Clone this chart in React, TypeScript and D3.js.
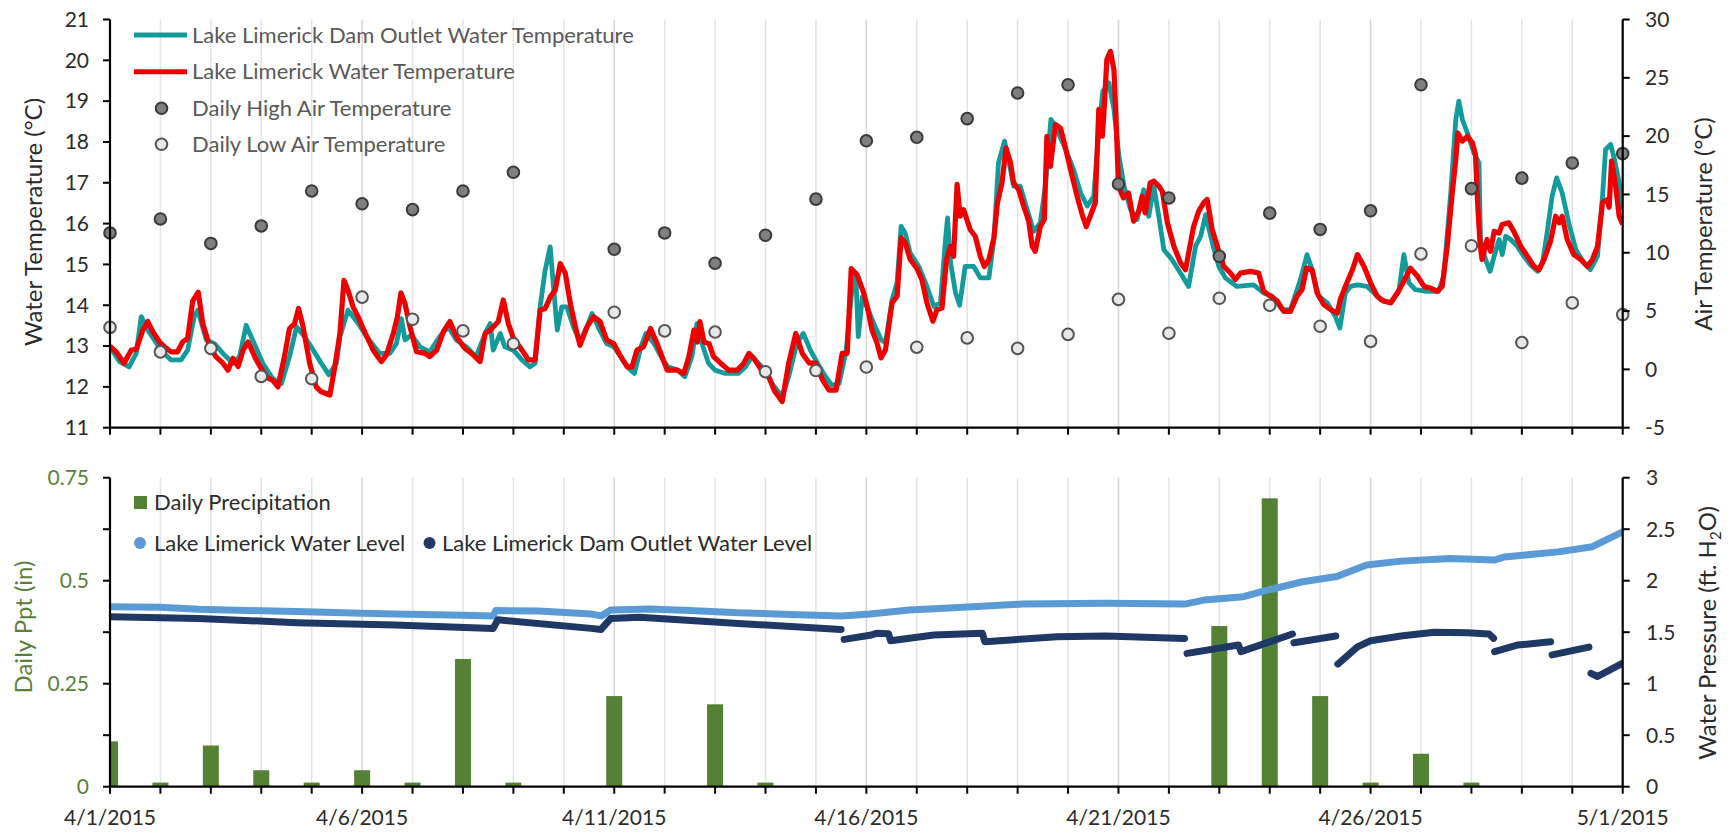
import React from "react";
import * as d3 from "d3";

// ---------- DATA ----------
const dayIndex: number[] = d3.range(0, 31);
const dateTickDays: number[] = [0, 5, 10, 15, 20, 25, 30];
const dateTickLabels: string[] = ["4/1/2015", "4/6/2015", "4/11/2015", "4/16/2015", "4/21/2015", "4/26/2015", "5/1/2015"];

const waterTempTicks: number[] = [11, 12, 13, 14, 15, 16, 17, 18, 19, 20, 21];
const airTempTicks: number[] = [-5, 0, 5, 10, 15, 20, 25, 30];
const pptTicks: number[] = [0, 0.25, 0.5, 0.75];
const pptTickLabels: string[] = ["0", "0.25", "0.5", "0.75"];
const pptMinorTicks: number[] = [0.125, 0.375, 0.625];
const pressureTicks: number[] = [0, 0.5, 1, 1.5, 2, 2.5, 3];
const pressureTickLabels: string[] = ["0", "0.5", "1", "1.5", "2", "2.5", "3"];

// Daily air temperature (°C), one per day 4/1..5/1 (null = missing)
const airHigh: (number | null)[] = [11.7, 12.9, 10.8, 12.3, 15.3, 14.2, 13.7, 15.3, 16.9, null, 10.3, 11.7, 9.1, 11.5, 14.6, 19.6, 19.9, 21.5, 23.7, 24.4, 15.9, 14.7, 9.7, 13.4, 12.0, 13.6, 24.4, 15.5, 16.4, 17.7, 18.5];
const airLow: (number | null)[] = [3.6, 1.5, 1.8, -0.6, -0.8, 6.2, 4.3, 3.3, 2.2, null, 4.9, 3.3, 3.2, -0.2, -0.1, 0.2, 1.9, 2.7, 1.8, 3.0, 6.0, 3.1, 6.1, 5.5, 3.7, 2.4, 9.9, 10.6, 2.3, 5.7, 4.7];

// Daily precipitation (in)
const precip: number[] = [0.11, 0.01, 0.10, 0.04, 0.01, 0.04, 0.01, 0.31, 0.01, 0, 0.22, 0, 0.20, 0.01, 0, 0, 0, 0, 0, 0, 0, 0, 0.39, 0.70, 0.22, 0.01, 0.08, 0.01, 0, 0, 0];

// Lake Limerick water temperature [day since 4/1, °C]
const lakeTemp: [number, number][] = [
  [0, 13.0], [0.12, 12.86], [0.28, 12.58], [0.42, 12.9], [0.52, 12.92], [0.65, 13.39], [0.75, 13.6], [0.85, 13.35], [0.98, 13.1],
  [1.08, 12.98], [1.21, 12.86], [1.34, 12.86], [1.44, 13.1], [1.54, 13.19], [1.64, 14.1], [1.75, 14.32], [1.84, 13.55], [1.97, 13.02],
  [2.1, 12.74], [2.24, 12.58], [2.34, 12.41], [2.44, 12.7], [2.54, 12.5], [2.64, 12.9], [2.74, 13.1], [2.9, 12.66],
  [3.1, 12.24], [3.23, 12.16], [3.33, 12.0], [3.46, 12.74], [3.56, 13.43], [3.66, 13.55], [3.74, 13.92], [3.83, 13.47], [3.96, 12.58],
  [4.09, 12.0], [4.19, 11.88], [4.36, 11.8], [4.46, 12.5], [4.56, 13.31], [4.64, 14.61], [4.72, 14.37], [4.82, 13.96], [4.92, 13.72],
  [5.05, 13.35], [5.22, 12.9], [5.38, 12.62], [5.48, 12.78], [5.62, 13.31], [5.7, 13.72], [5.77, 14.3], [5.85, 14.04], [5.95, 13.47],
  [6.08, 12.86], [6.25, 12.82], [6.34, 12.74], [6.48, 12.9], [6.61, 13.35], [6.74, 13.6], [6.87, 13.23],
  [7.04, 12.94], [7.17, 12.82], [7.34, 12.62], [7.44, 13.31], [7.54, 13.39], [7.7, 13.6], [7.8, 14.13], [7.9, 13.55],
  [8.0, 13.19], [8.17, 12.9], [8.3, 12.66], [8.43, 12.66], [8.53, 13.88], [8.63, 13.92], [8.73, 14.2], [8.83, 14.37], [8.93, 15.02],
  [9.03, 14.78], [9.13, 14.04], [9.23, 13.47], [9.32, 13.02], [9.46, 13.47], [9.59, 13.72], [9.72, 13.6], [9.85, 13.15], [9.99, 13.06],
  [10.13, 12.74], [10.26, 12.49], [10.35, 12.49], [10.45, 12.9], [10.58, 12.98], [10.72, 13.43], [10.85, 13.06],
  [11.05, 12.41], [11.25, 12.41], [11.38, 12.33], [11.48, 12.74], [11.58, 13.39], [11.65, 13.1], [11.7, 13.6], [11.78, 13.1], [11.88, 13.06], [11.97, 12.74],
  [12.11, 12.58], [12.27, 12.41], [12.44, 12.41], [12.57, 12.58], [12.67, 12.82], [12.77, 12.7], [12.9, 12.45],
  [13.04, 12.33], [13.17, 11.92], [13.33, 11.64], [13.46, 12.58], [13.6, 13.31], [13.73, 12.82], [13.87, 12.58],
  [14.0, 12.58], [14.13, 12.17], [14.26, 11.92], [14.4, 11.92], [14.52, 12.82], [14.62, 12.82], [14.7, 14.9], [14.82, 14.74], [14.95, 14.29],
  [15.03, 13.9], [15.11, 13.4], [15.21, 13.08], [15.29, 12.71], [15.38, 12.91], [15.51, 14.06], [15.61, 14.22], [15.69, 15.65], [15.77, 15.53], [15.87, 15.12],
  [16.0, 14.91], [16.1, 14.63], [16.2, 14.06], [16.32, 13.61], [16.4, 13.89], [16.5, 13.93], [16.59, 15.12], [16.67, 15.44], [16.73, 15.2], [16.8, 16.96], [16.86, 16.18], [16.93, 16.34],
  [17.06, 15.85], [17.16, 15.69], [17.26, 15.2], [17.34, 14.95], [17.43, 15.12], [17.53, 15.65], [17.6, 16.51], [17.69, 17.0], [17.77, 17.85], [17.86, 17.49], [17.92, 17.0],
  [18.02, 16.83], [18.12, 16.43], [18.22, 16.06], [18.29, 15.44], [18.35, 15.32], [18.45, 15.93], [18.53, 16.1], [18.58, 18.14], [18.65, 17.4], [18.75, 18.43], [18.85, 18.34], [18.91, 18.06],
  [19.05, 17.32], [19.18, 16.67], [19.28, 16.22], [19.36, 15.93], [19.44, 16.18], [19.54, 16.51], [19.61, 18.8], [19.68, 18.14], [19.72, 18.88], [19.77, 20.02], [19.84, 20.22], [19.91, 19.77], [19.96, 18.3],
  [20.0, 16.92], [20.1, 16.63], [20.2, 16.75], [20.3, 16.06], [20.4, 16.3], [20.47, 16.67], [20.53, 16.26], [20.63, 17.0], [20.7, 17.04], [20.8, 16.92], [20.87, 16.79], [20.97, 16.02],
  [21.1, 15.44], [21.23, 15.04], [21.33, 14.87], [21.43, 15.53], [21.49, 15.93], [21.59, 16.3], [21.69, 16.51], [21.76, 16.59], [21.86, 15.85],
  [22.0, 15.28], [22.09, 14.95], [22.22, 14.79], [22.32, 14.63], [22.42, 14.79], [22.62, 14.83], [22.78, 14.79], [22.88, 14.34],
  [23.02, 14.22], [23.15, 14.1], [23.28, 13.85], [23.41, 13.85], [23.54, 14.22], [23.64, 14.38], [23.73, 14.91], [23.84, 14.87], [23.94, 14.3],
  [24.07, 14.02], [24.21, 13.89], [24.34, 13.81], [24.4, 14.14], [24.5, 14.46], [24.64, 14.87], [24.74, 15.24], [24.87, 14.95],
  [25.0, 14.55], [25.13, 14.22], [25.26, 14.1], [25.4, 14.06], [25.53, 14.3], [25.66, 14.59], [25.79, 14.91], [25.93, 14.71],
  [26.06, 14.46], [26.19, 14.42], [26.32, 14.34], [26.42, 14.46], [26.52, 15.44], [26.62, 16.75], [26.69, 17.57], [26.73, 18.22], [26.82, 18.02], [26.92, 18.14],
  [27.02, 17.98], [27.08, 17.69], [27.13, 16.34], [27.17, 15.53], [27.21, 15.12], [27.31, 15.61], [27.38, 15.32], [27.45, 15.81], [27.55, 15.77], [27.61, 15.98], [27.74, 16.02], [27.84, 15.81], [27.98, 15.44],
  [28.11, 15.2], [28.24, 14.95], [28.34, 14.87], [28.44, 15.12], [28.57, 15.57], [28.67, 16.18], [28.74, 16.02], [28.8, 16.18], [28.9, 15.61],
  [29.03, 15.24], [29.17, 15.12], [29.3, 14.95], [29.4, 15.12], [29.5, 15.44], [29.6, 16.51], [29.7, 16.59], [29.73, 16.4], [29.78, 17.53], [29.86, 16.92], [29.93, 16.18], [30.0, 15.98],
];

// Lake Limerick Dam outlet water temperature [day, °C]
const outletTemp: [number, number][] = [
  [0, 12.98], [0.19, 12.62], [0.38, 12.49], [0.52, 12.82], [0.62, 13.72], [0.75, 13.39], [0.88, 13.15],
  [1.01, 12.9], [1.21, 12.66], [1.41, 12.66], [1.54, 12.9], [1.67, 13.72], [1.74, 13.88], [1.91, 13.15],
  [2.07, 13.06], [2.24, 12.82], [2.44, 12.58], [2.57, 12.74], [2.7, 13.51], [2.83, 13.15],
  [3.03, 12.58], [3.23, 12.2], [3.4, 12.08], [3.56, 12.74], [3.7, 13.47], [3.86, 13.23],
  [4.03, 12.9], [4.19, 12.58], [4.34, 12.3], [4.49, 12.58], [4.56, 13.23], [4.72, 13.88], [4.92, 13.56],
  [5.09, 13.23], [5.35, 12.82], [5.55, 12.82], [5.68, 13.06], [5.78, 13.67], [5.85, 13.15], [5.98, 13.27],
  [6.15, 12.98], [6.34, 12.86], [6.54, 13.23], [6.71, 13.47], [6.87, 13.15],
  [7.07, 12.98], [7.26, 12.74], [7.47, 13.39], [7.54, 13.55], [7.6, 12.9], [7.74, 13.31], [7.83, 12.98],
  [8.0, 12.9], [8.17, 12.66], [8.33, 12.49], [8.43, 12.58], [8.53, 13.96], [8.63, 14.86], [8.73, 15.43], [8.79, 14.53], [8.87, 13.39], [8.96, 13.96],
  [9.06, 13.96], [9.19, 13.47], [9.32, 13.11], [9.46, 13.47], [9.56, 13.8], [9.68, 13.47], [9.85, 13.06], [9.99, 12.98],
  [10.13, 12.74], [10.26, 12.49], [10.4, 12.33], [10.53, 12.98], [10.63, 13.31], [10.79, 13.06], [10.93, 12.74],
  [11.06, 12.49], [11.26, 12.41], [11.4, 12.25], [11.54, 12.74], [11.64, 13.55], [11.74, 13.06], [11.87, 12.58],
  [12.0, 12.41], [12.2, 12.33], [12.46, 12.33], [12.6, 12.49], [12.73, 12.74], [12.93, 12.49],
  [13.13, 12.08], [13.33, 11.76], [13.46, 12.25], [13.62, 13.06], [13.75, 13.31], [13.89, 12.9],
  [14.03, 12.58], [14.19, 12.25], [14.32, 12.04], [14.46, 12.08], [14.6, 12.9], [14.72, 14.45], [14.79, 14.78], [14.84, 13.23], [14.92, 14.2],
  [15.01, 13.97], [15.14, 13.57], [15.29, 13.16], [15.38, 13.08], [15.51, 14.14], [15.61, 14.55], [15.69, 15.93], [15.77, 15.77], [15.87, 15.28],
  [16.04, 14.95], [16.2, 14.46], [16.34, 13.97], [16.47, 14.06], [16.57, 15.61], [16.61, 16.14], [16.67, 15.04], [16.77, 14.3], [16.85, 14.0], [16.96, 14.95],
  [17.13, 14.95], [17.26, 14.67], [17.43, 14.67], [17.53, 15.61], [17.62, 17.49], [17.74, 18.02], [17.86, 17.32], [17.92, 16.92],
  [18.05, 16.92], [18.19, 16.34], [18.32, 15.81], [18.45, 16.02], [18.55, 16.92], [18.66, 18.55], [18.78, 18.3], [18.91, 17.94],
  [19.11, 17.32], [19.25, 16.75], [19.38, 16.43], [19.51, 16.67], [19.61, 18.3], [19.69, 19.24], [19.81, 19.45], [19.91, 18.8],
  [20.01, 17.65], [20.11, 16.92], [20.24, 16.34], [20.37, 16.1], [20.5, 16.83], [20.6, 16.18], [20.7, 16.92], [20.8, 16.18], [20.9, 15.36],
  [21.06, 15.12], [21.23, 14.79], [21.39, 14.46], [21.53, 15.45], [21.63, 15.69], [21.73, 16.22], [21.86, 15.53], [21.99, 14.95],
  [22.12, 14.67], [22.35, 14.46], [22.68, 14.5], [22.88, 14.3],
  [23.05, 14.22], [23.25, 13.89], [23.41, 13.89], [23.61, 14.63], [23.74, 15.24], [23.84, 14.87], [23.97, 14.22],
  [24.14, 14.06], [24.3, 13.73], [24.39, 13.44], [24.5, 14.3], [24.6, 14.46], [24.74, 14.5], [24.93, 14.46],
  [25.07, 14.3], [25.2, 14.14], [25.4, 14.06], [25.56, 14.34], [25.66, 15.24], [25.76, 14.55], [25.89, 14.38],
  [26.12, 14.34], [26.35, 14.34], [26.45, 14.71], [26.59, 16.75], [26.69, 18.55], [26.75, 19.0], [26.82, 18.55], [26.92, 18.22],
  [27.05, 17.73], [27.15, 17.49], [27.18, 15.61], [27.28, 15.12], [27.37, 14.83], [27.45, 15.2], [27.55, 15.61], [27.61, 15.24], [27.68, 15.69], [27.78, 15.61], [27.91, 15.44],
  [28.04, 15.2], [28.17, 14.99], [28.31, 14.83], [28.41, 15.04], [28.5, 15.77], [28.6, 16.67], [28.69, 17.12], [28.8, 16.75], [28.93, 16.02],
  [29.07, 15.36], [29.23, 15.04], [29.36, 14.87], [29.5, 15.2], [29.6, 16.67], [29.66, 17.81], [29.76, 17.94], [29.83, 17.61], [29.93, 17.0], [30.0, 16.34],
];

// Lake Limerick water level [day, ft H2O]
const lakeLevel: [number, number][] = [
  [0, 1.748], [1, 1.742], [1.75, 1.722], [3, 1.708], [3.7, 1.7], [5, 1.685], [5.65, 1.677], [7, 1.665], [7.6, 1.658], [7.65, 1.71],
  [8.5, 1.705], [9.54, 1.677], [9.74, 1.658], [9.93, 1.716], [10.7, 1.725], [11.5, 1.71], [12.46, 1.69], [13.5, 1.672], [14.5, 1.658],
  [15.07, 1.677], [15.85, 1.715], [16.83, 1.74], [18.1, 1.773], [19.75, 1.78], [21.31, 1.773], [21.7, 1.812], [22.48, 1.845], [22.97, 1.91],
  [23.65, 1.99], [24.33, 2.04], [24.92, 2.152], [25.6, 2.19], [26.58, 2.216], [27.45, 2.2], [27.65, 2.23], [28.72, 2.28], [29.4, 2.33], [30, 2.475],
];

// Lake Limerick Dam outlet water level [day, ft H2O] (null = gap)
const outletLevel: [number, number | null][] = [
  [0, 1.65], [1.75, 1.634], [3.7, 1.592], [5.65, 1.57], [7.6, 1.537], [7.69, 1.62], [9.54, 1.537], [9.74, 1.527], [9.93, 1.634], [10.5, 1.644],
  [12.46, 1.585], [14.5, 1.527], [14.53, null],
  [14.56, 1.43], [15.07, 1.47], [15.2, 1.489], [15.44, 1.485], [15.48, 1.417], [16.34, 1.472], [17.3, 1.489], [17.35, 1.408], [18.78, 1.456],
  [19.75, 1.463], [21.31, 1.44], [21.34, null],
  [21.36, 1.294], [22.38, 1.375], [22.43, 1.311], [23.45, 1.482], [23.47, null],
  [23.48, 1.398], [24.31, 1.463], [24.33, null],
  [24.35, 1.191], [24.74, 1.358], [25.0, 1.417], [25.6, 1.463], [26.26, 1.499], [26.92, 1.495], [27.35, 1.482], [27.44, 1.44], [27.45, null],
  [27.46, 1.311], [27.91, 1.375], [28.57, 1.407], [28.585, null],
  [28.6, 1.28], [29.33, 1.355], [29.35, null],
  [29.37, 1.1], [29.5, 1.07], [30, 1.2],
];

// ---------- STYLE ----------
const FONT = "Lato, 'Open Sans', sans-serif";
const TEAL = "#139a9a";
const RED = "#ee0000";
const LIGHTBLUE = "#5b9bd5";
const NAVY = "#1f3864";
const GREEN = "#548235";
const GREEN_TEXT = "#5b7f3a";
const TEXT = "#2b2b2b";
const LEGEND_TEXT = "#595959";
const GRID = "#e3e3e3";

export default function App() {
  const W = 1730, H = 832;
  const xL = 110, xR = 1622.7;
  const topT = 19.5, topB = 427.7, botT = 477.7, botB = 786.7;

  const x = d3.scaleLinear().domain([0, 30]).range([xL, xR]);
  const yW = d3.scaleLinear().domain([11, 21]).range([topB, topT]);
  const yA = d3.scaleLinear().domain([-5, 30]).range([topB, topT]);
  const yP = d3.scaleLinear().domain([0, 0.75]).range([botB, botT]);
  const yL = d3.scaleLinear().domain([0, 3]).range([botB, botT]);

  const tempLine = d3.line<[number, number]>().x(d => x(d[0])).y(d => yW(d[1]));
  const levelLine = d3.line<[number, number | null]>()
    .defined(d => d[1] != null)
    .x(d => x(d[0]))
    .y(d => yL(d[1] as number));

  const barW = 16;
  const tickLen = 7;
  const fs = 21;      // tick labels
  const lfs = 22;     // legend
  const tfs = 24;     // axis titles

  const xAxis = (yBase: number, labels: boolean) => (
    <g>
      {dayIndex.map(d => (
        <line key={"t" + d} x1={x(d)} x2={x(d)} y1={yBase} y2={yBase + tickLen} stroke="#000" strokeWidth={2} />
      ))}
      <line x1={xL} x2={xR} y1={yBase} y2={yBase} stroke="#000" strokeWidth={2.2} />
      {labels && dateTickDays.map((d, i) => (
        <text key={"l" + d} x={x(d)} y={yBase + 38} textAnchor="middle" fontSize={fs} fill={TEXT}>{dateTickLabels[i]}</text>
      ))}
    </g>
  );

  const grid = (y0: number, y1: number) => (
    <g>
      {dayIndex.filter(d => d > 0 && d < 30).map(d => (
        <line key={d} x1={x(d)} x2={x(d)} y1={y0} y2={y1} stroke={d % 5 === 0 ? "#d6d6d6" : GRID} strokeWidth={1.5} />
      ))}
    </g>
  );

  return (
    <div style={{ position: "fixed", left: 0, top: 0, width: W, height: H, background: "#fff" }}>
      <svg width={W} height={H} style={{ display: "block", fontFamily: FONT }}>
        <defs>
          <clipPath id="clipBot">
            <rect x={xL} y={botT - 5} width={xR - xL} height={botB - botT + 5} />
          </clipPath>
          <clipPath id="clipTop">
            <rect x={xL} y={topT - 5} width={xR - xL} height={topB - topT + 5} />
          </clipPath>
        </defs>

        {/* ================= TOP PANEL ================= */}
        {grid(topT, topB)}
        <g clipPath="url(#clipTop)">
          <path d={tempLine(outletTemp) || ""} fill="none" stroke={TEAL} strokeWidth={4.8} strokeLinejoin="round" />
          <path d={tempLine(lakeTemp) || ""} fill="none" stroke={RED} strokeWidth={5.2} strokeLinejoin="round" />
        </g>
        {airHigh.map((v, i) => v == null ? null : (
          <circle key={"h" + i} cx={x(i)} cy={yA(v)} r={5.8} fill="#7f7f7f" stroke="#3a3a3a" strokeWidth={2} />
        ))}
        {airLow.map((v, i) => v == null ? null : (
          <circle key={"lo" + i} cx={x(i)} cy={yA(v)} r={5.8} fill="#e8e8e8" stroke="#555" strokeWidth={2} />
        ))}

        {/* left axis */}
        <line x1={xL} x2={xL} y1={topT} y2={topB} stroke="#000" strokeWidth={2.2} />
        {waterTempTicks.map(t => (
          <g key={"wt" + t}>
            <line x1={xL - tickLen} x2={xL} y1={yW(t)} y2={yW(t)} stroke="#000" strokeWidth={2} />
            <text x={89} y={yW(t)} dy="0.35em" textAnchor="end" fontSize={fs} fill={TEXT}>{t}</text>
          </g>
        ))}
        {/* right axis */}
        <line x1={xR} x2={xR} y1={topT} y2={topB} stroke="#000" strokeWidth={2.2} />
        {airTempTicks.map(t => (
          <g key={"at" + t}>
            <line x1={xR} x2={xR + tickLen} y1={yA(t)} y2={yA(t)} stroke="#000" strokeWidth={2} />
            <text x={1645} y={yA(t)} dy="0.35em" textAnchor="start" fontSize={fs} fill={TEXT}>{t}</text>
          </g>
        ))}
        {xAxis(topB, false)}

        <text transform={`translate(34,222) rotate(-90)`} textAnchor="middle" dy="0.35em" fontSize={tfs} fill={TEXT}>Water Temperature (°C)</text>
        <text transform={`translate(1704,224) rotate(-90)`} textAnchor="middle" dy="0.35em" fontSize={tfs} fill={TEXT}>Air Temperature (°C)</text>

        {/* top legend */}
        <g fontSize={lfs} fill={LEGEND_TEXT}>
          <line x1={134} x2={187} y1={35} y2={35} stroke={TEAL} strokeWidth={5} />
          <text x={192} y={35} dy="0.35em">Lake Limerick Dam Outlet Water Temperature</text>
          <line x1={134} x2={187} y1={71.7} y2={71.7} stroke={RED} strokeWidth={5} />
          <text x={192} y={71.7} dy="0.35em">Lake Limerick Water Temperature</text>
          <circle cx={161.5} cy={108.3} r={5.8} fill="#7f7f7f" stroke="#3a3a3a" strokeWidth={2} />
          <text x={192} y={108.3} dy="0.35em">Daily High Air Temperature</text>
          <circle cx={161.5} cy={144.3} r={5.8} fill="#e8e8e8" stroke="#555" strokeWidth={2} />
          <text x={192} y={144.3} dy="0.35em">Daily Low Air Temperature</text>
        </g>

        {/* ================= BOTTOM PANEL ================= */}
        {grid(botT, botB)}
        <g clipPath="url(#clipBot)">
          {precip.map((v, i) => v > 0 ? (
            <rect key={"p" + i} x={x(i) - barW / 2} y={yP(v)} width={barW} height={yP(0) - yP(v)} fill={GREEN} />
          ) : null)}
          <path d={levelLine(lakeLevel as [number, number | null][]) || ""} fill="none" stroke={LIGHTBLUE} strokeWidth={7} strokeLinecap="round" strokeLinejoin="round" />
          <path d={levelLine(outletLevel) || ""} fill="none" stroke={NAVY} strokeWidth={7} strokeLinecap="round" strokeLinejoin="round" />
        </g>

        {/* left axis (ppt) */}
        <line x1={xL} x2={xL} y1={botT} y2={botB} stroke="#000" strokeWidth={2.2} />
        {pptTicks.map((t, i) => (
          <g key={"pt" + t}>
            <line x1={xL - tickLen} x2={xL} y1={yP(t)} y2={yP(t)} stroke="#000" strokeWidth={2} />
            <text x={89} y={yP(t)} dy="0.35em" textAnchor="end" fontSize={fs} fill={GREEN_TEXT}>{pptTickLabels[i]}</text>
          </g>
        ))}
        {pptMinorTicks.map(t => (
          <line key={"pm" + t} x1={xL - tickLen} x2={xL} y1={yP(t)} y2={yP(t)} stroke="#000" strokeWidth={2} />
        ))}
        {/* right axis (pressure) */}
        <line x1={xR} x2={xR} y1={botT} y2={botB} stroke="#000" strokeWidth={2.2} />
        {pressureTicks.map((t, i) => (
          <g key={"pr" + t}>
            <line x1={xR} x2={xR + tickLen} y1={yL(t)} y2={yL(t)} stroke="#000" strokeWidth={2} />
            <text x={1646} y={yL(t)} dy="0.35em" textAnchor="start" fontSize={fs} fill={TEXT}>{pressureTickLabels[i]}</text>
          </g>
        ))}
        {xAxis(botB, true)}

        <text transform={`translate(24,627) rotate(-90)`} textAnchor="middle" dy="0.35em" fontSize={tfs} fill={GREEN_TEXT}>Daily Ppt (in)</text>
        <text transform={`translate(1708,633) rotate(-90)`} textAnchor="middle" dy="0.35em" fontSize={tfs} fill={TEXT}>
          Water Pressure (ft. H<tspan fontSize={15} dy="5">2</tspan><tspan dy="-5">O)</tspan>
        </text>

        {/* bottom legend */}
        <g fontSize={lfs} fill={TEXT}>
          <rect x={134} y={496} width={13} height={13} fill={GREEN} />
          <text x={154} y={502.5} dy="0.35em">Daily Precipitation</text>
          <circle cx={140} cy={543} r={6} fill={LIGHTBLUE} />
          <text x={154} y={543} dy="0.35em">Lake Limerick Water Level</text>
          <circle cx={429.5} cy={543} r={6} fill={NAVY} />
          <text x={442} y={543} dy="0.35em">Lake Limerick Dam Outlet Water Level</text>
        </g>
      </svg>
    </div>
  );
}
